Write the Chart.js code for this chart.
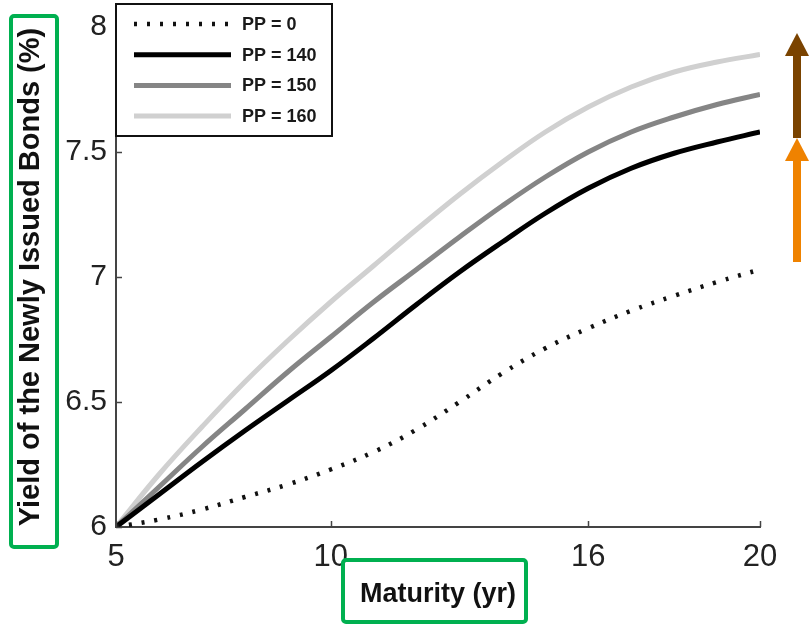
<!DOCTYPE html>
<html>
<head>
  <title>Yield vs Maturity</title>
  <script src="https://cdn.jsdelivr.net/npm/chart.js"></script>
  <style>
    body { margin: 0; background: #fff; }
    #wrap { width: 809px; height: 628px; position: relative; }
  </style>
</head>
<body>
  <div id="wrap"><canvas id="yieldChart"></canvas></div>

  <script>
    // data
    const maturity = [5, 6, 7, 8, 9, 10, 11, 12, 13, 14, 15, 16, 17, 18, 19, 20];
    const yieldPP0 = [6.00, 6.03, 6.07, 6.12, 6.17, 6.23, 6.30, 6.39, 6.50, 6.615, 6.715, 6.795, 6.865, 6.925, 6.98, 7.03];
    const yieldPP140 = [6.00, 6.13, 6.26, 6.385, 6.505, 6.625, 6.755, 6.89, 7.02, 7.14, 7.255, 7.355, 7.435, 7.495, 7.54, 7.58];
    const yieldPP150 = [6.00, 6.16, 6.32, 6.47, 6.62, 6.76, 6.90, 7.03, 7.16, 7.285, 7.40, 7.50, 7.58, 7.64, 7.69, 7.73];
    const yieldPP160 = [6.00, 6.21, 6.40, 6.58, 6.745, 6.90, 7.045, 7.19, 7.33, 7.46, 7.58, 7.68, 7.76, 7.82, 7.86, 7.89];
    const seriesLabels = ["PP = 0", "PP = 140", "PP = 150", "PP = 160"];
    const xTickValues = [5, 10, 16, 20];
    const yTickValues = [6, 6.5, 7, 7.5, 8];

    const FONT = '"Liberation Sans", Arial, sans-serif';
    const GREEN = '#00b050';

    const toPoints = ys => maturity.map((m, i) => ({ x: m, y: ys[i] }));

    const mkSet = (label, ys, color, dash) => ({
      label,
      data: toPoints(ys),
      borderColor: color,
      borderWidth: dash ? 4.5 : 5,
      borderDash: dash || [],
      borderCapStyle: 'butt',
      pointRadius: 0,
      tension: 0.4,
      fill: false
    });

    // legend box, inward ticks, highlight boxes and arrows
    const extras = {
      id: 'extras',
      afterDraw(chart) {
        const ctx = chart.ctx;
        const xs = chart.scales.x, ys = chart.scales.y;
        const a = chart.chartArea;
        ctx.save();

        // inward tick marks
        ctx.strokeStyle = '#444';
        ctx.lineWidth = 1.5;
        xTickValues.forEach(v => {
          const px = Math.round(xs.getPixelForValue(v)) + 0.5;
          ctx.beginPath(); ctx.moveTo(px, a.bottom); ctx.lineTo(px, a.bottom - 6); ctx.stroke();
        });
        yTickValues.forEach(v => {
          const py = Math.round(ys.getPixelForValue(v)) + 0.5;
          ctx.beginPath(); ctx.moveTo(a.left, py); ctx.lineTo(a.left + 6, py); ctx.stroke();
        });

        // legend
        const lx = 116, ly = 4, lw = 216, lh = 132;
        ctx.fillStyle = '#fff';
        ctx.fillRect(lx, ly, lw, lh);
        ctx.strokeStyle = '#111';
        ctx.lineWidth = 2;
        ctx.strokeRect(lx, ly, lw, lh);
        ctx.font = 'bold 18px ' + FONT;
        ctx.textBaseline = 'middle';
        chart.data.datasets.forEach((ds, i) => {
          const rowY = 24 + i * 30.7;
          ctx.strokeStyle = ds.borderColor;
          ctx.lineWidth = ds.borderWidth;
          ctx.lineCap = 'butt';
          ctx.setLineDash(ds.borderDash);
          ctx.beginPath(); ctx.moveTo(134, rowY); ctx.lineTo(231, rowY); ctx.stroke();
          ctx.setLineDash([]);
          ctx.fillStyle = '#1a1a1a';
          ctx.fillText(ds.label, 242, rowY + 1);
        });

        // green highlight boxes
        ctx.strokeStyle = GREEN;
        ctx.lineWidth = 4;
        ctx.beginPath(); ctx.roundRect(11, 16, 46, 531, 3); ctx.stroke();
        ctx.beginPath(); ctx.roundRect(343, 560, 183, 62, 3); ctx.stroke();

        // arrows on the right
        const arrow = (x, top, bottom, color) => {
          ctx.fillStyle = color;
          ctx.fillRect(x - 4, top + 22, 8, bottom - top - 22);
          ctx.beginPath();
          ctx.moveTo(x, top); ctx.lineTo(x - 12, top + 23); ctx.lineTo(x + 12, top + 23);
          ctx.closePath(); ctx.fill();
        };
        arrow(797, 138, 262, '#ef8200');
        arrow(797, 33, 138, '#7a4300');

        ctx.restore();
      }
    };

    new Chart(document.getElementById('yieldChart'), {
      type: 'line',
      data: {
        datasets: [
          mkSet(seriesLabels[0], yieldPP0, '#111', [3, 10]),
          mkSet(seriesLabels[1], yieldPP140, '#000'),
          mkSet(seriesLabels[2], yieldPP150, '#858585'),
          mkSet(seriesLabels[3], yieldPP160, '#d0d0d0')
        ]
      },
      options: {
        responsive: true,
        maintainAspectRatio: false,
        animation: false,
        layout: { padding: { top: 26, right: 49, bottom: 0, left: 0 } },
        plugins: { legend: { display: false }, tooltip: { enabled: false } },
        scales: {
          x: {
            type: 'linear',
            min: 5, max: 20,
            afterBuildTicks: s => { s.ticks = xTickValues.map(v => ({ value: v })); },
            afterFit: s => { s.height = 101; },
            grid: { display: false, drawTicks: false },
            border: { display: true, color: '#444', width: 2 },
            ticks: { padding: 12, color: '#222', font: { family: FONT, size: 31 }, maxRotation: 0, callback: v => String(v) },
            title: { display: true, text: 'Maturity (yr)', color: '#111', font: { family: FONT, size: 27, weight: 'bold' }, padding: { top: 0, bottom: 17 } }
          },
          y: {
            min: 6, max: 8,
            afterBuildTicks: s => { s.ticks = yTickValues.map(v => ({ value: v })); },
            afterFit: s => { s.width = 116; },
            grid: { display: false, drawTicks: false },
            border: { display: true, color: '#444', width: 2 },
            ticks: { padding: 9, color: '#222', font: { family: FONT, size: 30 }, callback: v => String(v) },
            title: { display: true, text: 'Yield of the Newly Issued Bonds (%)', color: '#111', font: { family: FONT, size: 29, weight: 'bold' }, padding: { top: 14, bottom: 0 } }
          }
        }
      },
      plugins: [extras]
    });
  </script>
</body>
</html>
